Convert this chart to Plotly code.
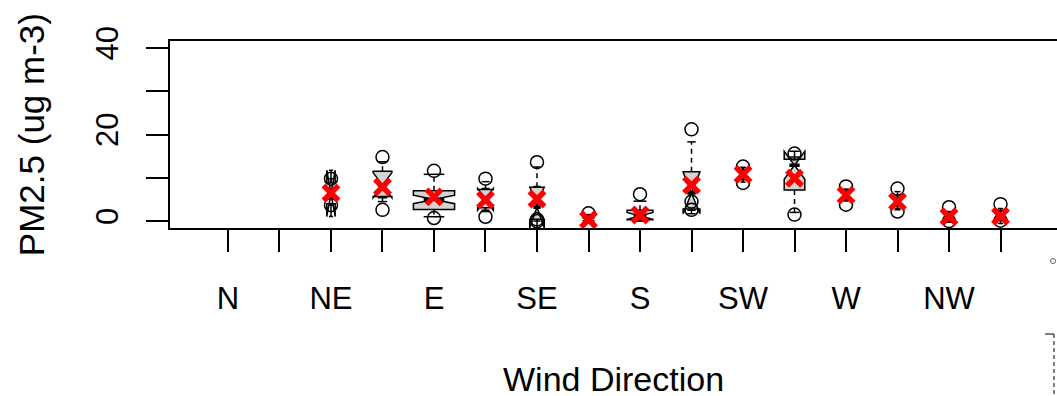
import math
import plotly.graph_objects as go

# ---------------- data ----------------
directions = ["N", "NNE", "NE", "ENE", "E", "ESE", "SE", "SSE",
              "S", "SSW", "SW", "WSW", "W", "WNW", "NW", "NNW"]
tick_labels = ["N", "", "NE", "", "E", "", "SE", "",
               "S", "", "SW", "", "W", "", "NW", ""]
n_obs =         [0, 0, 2, 10, 48, 7, 6, 3, 19, 8, 3, 12, 3, 4, 3, 3]
lower_whisker = [None, None, 3.7, 4.5, 1.0, 2.2, 0.0, 0.0, 0.0, 2.5, 9.0, 2.0, 4.8, 2.6, 0.0, 0.1]
q1 =            [None, None, 4.0, 5.7, 2.7, 3.1, 0.4, 0.1, 0.3, 2.8, 10.2, 7.2, 5.3, 3.5, 0.3, 0.3]
median =        [None, None, 6.4, 8.3, 5.0, 5.0, 3.2, 0.3, 1.2, 6.5, 11.0, 12.9, 6.0, 4.5, 0.9, 0.8]
q3 =            [None, None, 8.8, 11.5, 7.0, 7.3, 7.8, 0.6, 2.5, 11.4, 11.8, 14.3, 6.8, 5.5, 1.6, 1.8]
upper_whisker = [None, None, 9.8, 13.7, 10.8, 9.1, 12.5, 1.5, 4.6, 18.3, 12.3, 14.8, 7.3, 6.8, 2.2, 2.9]
mean_values =   [None, None, 6.5, 7.9, 5.6, 4.9, 5.1, 0.3, 1.4, 8.3, 10.8, 9.9, 6.0, 4.5, 1.0, 1.1]
extra_points = [[], [], [9.8, 3.7], [14.8, 2.6], [11.6, 0.7], [9.8, 1.0],
                [13.6, 0.4, 0.0], [1.8], [6.2], [21.2, 4.5, 2.6], [12.6, 8.8],
                [15.6, 1.5], [8.0, 3.8], [7.5, 2.2], [3.2, 0.0], [3.9, 0.1]]
y_tick_values = [0, 10, 20, 30, 40]
y_tick_labels = ["0", "", "20", "", "40"]

# ---------------- figure ----------------
FONT = "Liberation Sans, Arial, Helvetica, sans-serif"
BOXWEX = 0.8
max_sqrt_n = max(math.sqrt(n) for n in n_obs)
positions = list(range(1, len(directions) + 1))

fig = go.Figure()

wx, wy, cx, cy, mx, my = [], [], [], [], [], []
px, py, ax, ay = [], [], [], []
for i, d in enumerate(directions):
    p = positions[i]
    for v in extra_points[i]:
        px.append(p); py.append(v)
    if n_obs[i] == 0:
        continue
    w = BOXWEX * math.sqrt(n_obs[i]) / max_sqrt_n
    notch = 1.58 * (q3[i] - q1[i]) / math.sqrt(n_obs[i])
    fig.add_trace(go.Box(
        x=[p], q1=[q1[i]], median=[median[i]], q3=[q3[i]],
        lowerfence=[q1[i]], upperfence=[q3[i]],
        notched=True, notchspan=[notch], notchwidth=0.5,
        width=w, fillcolor="#d3d3d3",
        line=dict(color="black", width=1.5),
        boxpoints=False, showlegend=False, hoverinfo="skip", name=d))
    # whiskers
    wx += [p, p, None, p, p, None]
    wy += [q3[i], upper_whisker[i], None, q1[i], lower_whisker[i], None]
    # staples
    s = w / 4
    cx += [p - s, p + s, None, p - s, p + s, None]
    cy += [upper_whisker[i], upper_whisker[i], None, lower_whisker[i], lower_whisker[i], None]
    # thick median
    mx += [p - w / 4, p + w / 4, None]
    my += [median[i], median[i], None]
    ax.append(p); ay.append(mean_values[i])

fig.add_trace(go.Scatter(x=wx, y=wy, mode="lines",
                         line=dict(color="black", width=1.5, dash="5px,4px"),
                         showlegend=False, hoverinfo="skip"))
fig.add_trace(go.Scatter(x=cx, y=cy, mode="lines",
                         line=dict(color="black", width=1.5),
                         showlegend=False, hoverinfo="skip"))
fig.add_trace(go.Scatter(x=mx, y=my, mode="lines",
                         line=dict(color="black", width=3.5),
                         showlegend=False, hoverinfo="skip"))
fig.add_trace(go.Scatter(x=px, y=py, mode="markers",
                         marker=dict(symbol="circle-open", size=13, color="black",
                                     line=dict(width=1.5, color="black")),
                         showlegend=False, hoverinfo="skip"))
fig.add_trace(go.Scatter(x=ax, y=ay, mode="markers",
                         marker=dict(symbol="x-thin", size=15, color="red",
                                     line=dict(width=5.5, color="red")),
                         showlegend=False, hoverinfo="skip"))

fig.update_layout(
    width=1057, height=396,
    margin=dict(l=170, r=0, t=41, b=168),
    paper_bgcolor="white", plot_bgcolor="white",
    boxmode="overlay",
    font=dict(family=FONT, size=31, color="black"),
    xaxis=dict(range=[-0.126, 17.097], tickmode="array", tickvals=positions,
               ticktext=tick_labels, ticks="outside", ticklen=22, tickwidth=1.5,
               tickcolor="black", showline=True, linewidth=1.5, linecolor="black",
               mirror=True, showgrid=False, zeroline=False,
               ticklabelstandoff=20),
    yaxis=dict(range=[-1.6, 41.6], tickmode="array", tickvals=y_tick_values,
               ticktext=y_tick_labels, tickangle=-90, ticks="outside", ticklen=22,
               tickwidth=1.5, tickcolor="black", showline=True, linewidth=1.5,
               linecolor="black", showgrid=False, zeroline=False,
               ticklabelstandoff=16),
    annotations=[
        dict(text="Wind Direction", xref="paper", yref="paper", x=0.5, y=-0.805,
             xanchor="center", yanchor="middle", showarrow=False,
             font=dict(family=FONT, size=34, color="black")),
        dict(text="PM2.5 (ug m-3)", xref="paper", yref="paper", x=-0.156, y=0.5,
             xanchor="center", yanchor="middle", textangle=-90, showarrow=False,
             font=dict(family=FONT, size=35, color="black")),
    ],
    shapes=[
        dict(type="circle", xref="paper", yref="paper", x0=0.9927, x1=0.9983,
             y0=-0.190, y1=-0.163, line=dict(color="#666666", width=1)),
        dict(type="line", xref="paper", yref="paper", x0=0.9966, x1=0.9966,
             y0=-0.567, y1=-0.90, line=dict(color="black", width=1, dash="4px,3px")),
        dict(type="line", xref="paper", yref="paper", x0=0.9865, x1=0.9966,
             y0=-0.567, y1=-0.567, line=dict(color="black", width=1)),
    ],
)

fig.write_html("out.html")
